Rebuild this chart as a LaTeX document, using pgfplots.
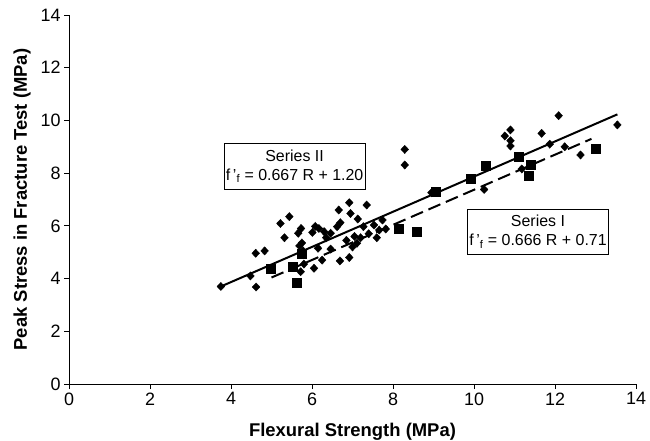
\documentclass[border=0pt]{standalone}
\usepackage{fontspec}
\setmainfont{Liberation Sans}
\usepackage{pgfplots}
\pgfplotsset{compat=1.18}

\begin{document}
\begin{tikzpicture}
\useasboundingbox (0,0) rectangle (650bp,441bp);
\begin{axis}[
    at={(69bp,57bp)}, anchor=south west,
    scale only axis, width=567bp, height=369bp,
    xmin=0, xmax=14, ymin=0, ymax=14,
    xtick={0,2,...,14}, ytick={0,2,...,14},
    axis x line=bottom, axis y line=left,
    axis line style={-, line width=0.8pt},
    tick align=outside, major tick length=5bp,
    tick style={black, line width=0.8pt},
    /pgf/number format/assume math mode=true,
    tick label style={font=\fontsize{18}{18}\selectfont},
    label style={font=\fontsize{18.5}{18.5}\selectfont\bfseries},
    xlabel={Flexural Strength (MPa)},
    ylabel={Peak Stress in Fracture Test (MPa)},
    xlabel style={at={([yshift=-48bp]axis description cs:0.5,0)}, anchor=center},
    ylabel style={at={([xshift=-47bp]axis description cs:0,0.5)}, anchor=center},
    clip=false,
]

% Series II (diamonds)
\addplot[only marks, mark=diamond*, mark size=4.1bp, mark options={black, fill=black, xscale=1.25}] coordinates {
    (3.75,3.70) (4.48,4.10) (4.62,3.68) (4.61,4.96) (4.83,5.05)
    (5.22,6.09) (5.44,6.35) (5.32,5.55) (5.66,5.72) (5.73,5.90)
    (5.69,5.24) (5.75,5.35) (5.72,4.26) (5.80,4.55) (5.78,5.05)
    (6.01,5.75) (6.17,5.90) (6.08,5.98) (6.30,5.78) (6.46,5.72)
    (6.62,5.97) (6.05,4.39) (6.25,4.70) (6.15,5.15) (6.46,5.12)
    (6.35,5.55) (6.69,4.67) (6.92,4.80) (6.66,6.60) (6.92,6.88)
    (6.95,6.47) (7.35,6.79) (7.13,6.26) (6.70,6.12) (7.11,5.34)
    (7.00,5.20) (7.27,5.97) (7.20,5.55) (7.40,5.70) (7.53,6.03)
    (7.66,5.84) (7.82,5.88) (7.74,6.22) (7.60,5.55) (7.05,5.60)
    (6.85,5.45) (8.29,8.90) (8.29,8.31) (8.95,7.26) (10.25,7.38)
    (10.76,9.41) (10.90,9.64) (10.90,9.23) (10.90,9.03) (11.18,8.16)
    (11.67,9.51) (12.09,10.18) (11.87,9.10) (12.24,9.00) (12.63,8.69)
    (13.54,9.83)
};

% Series I (squares)
\addplot[only marks, mark=square*, mark size=4.4bp, mark options={black, fill=black}] coordinates {
    (4.99,4.36) (5.52,4.45) (5.62,3.84) (5.75,4.95)
    (8.14,5.90) (8.59,5.78) (9.06,7.30) (9.92,7.78)
    (10.29,8.27) (11.10,8.62) (11.40,8.31) (11.35,7.89)
    (13.00,8.94)
};

% fitted lines
\addplot[black, line width=2bp, no marks] coordinates {(3.75,3.70) (13.54,10.23)};
\addplot[black, line width=2bp, no marks, dash pattern=on 13bp off 6bp] coordinates {(5.00,4.04) (12.90,9.30)};

\node[draw, fill=white, line width=0.6pt, align=center, inner xsep=2bp, inner ysep=6bp,
      font=\fontsize{16}{19}\selectfont] at (axis cs:5.57,8.26)
      {Series II\\f\,'\textsubscript{f} = 0.667 R + 1.20};
\node[draw, fill=white, line width=0.6pt, align=center, inner xsep=2bp, inner ysep=6bp,
      font=\fontsize{16}{19}\selectfont] at (axis cs:11.58,5.77)
      {Series I\\f\,'\textsubscript{f} = 0.666 R + 0.71};

\end{axis}
\end{tikzpicture}
\end{document}
